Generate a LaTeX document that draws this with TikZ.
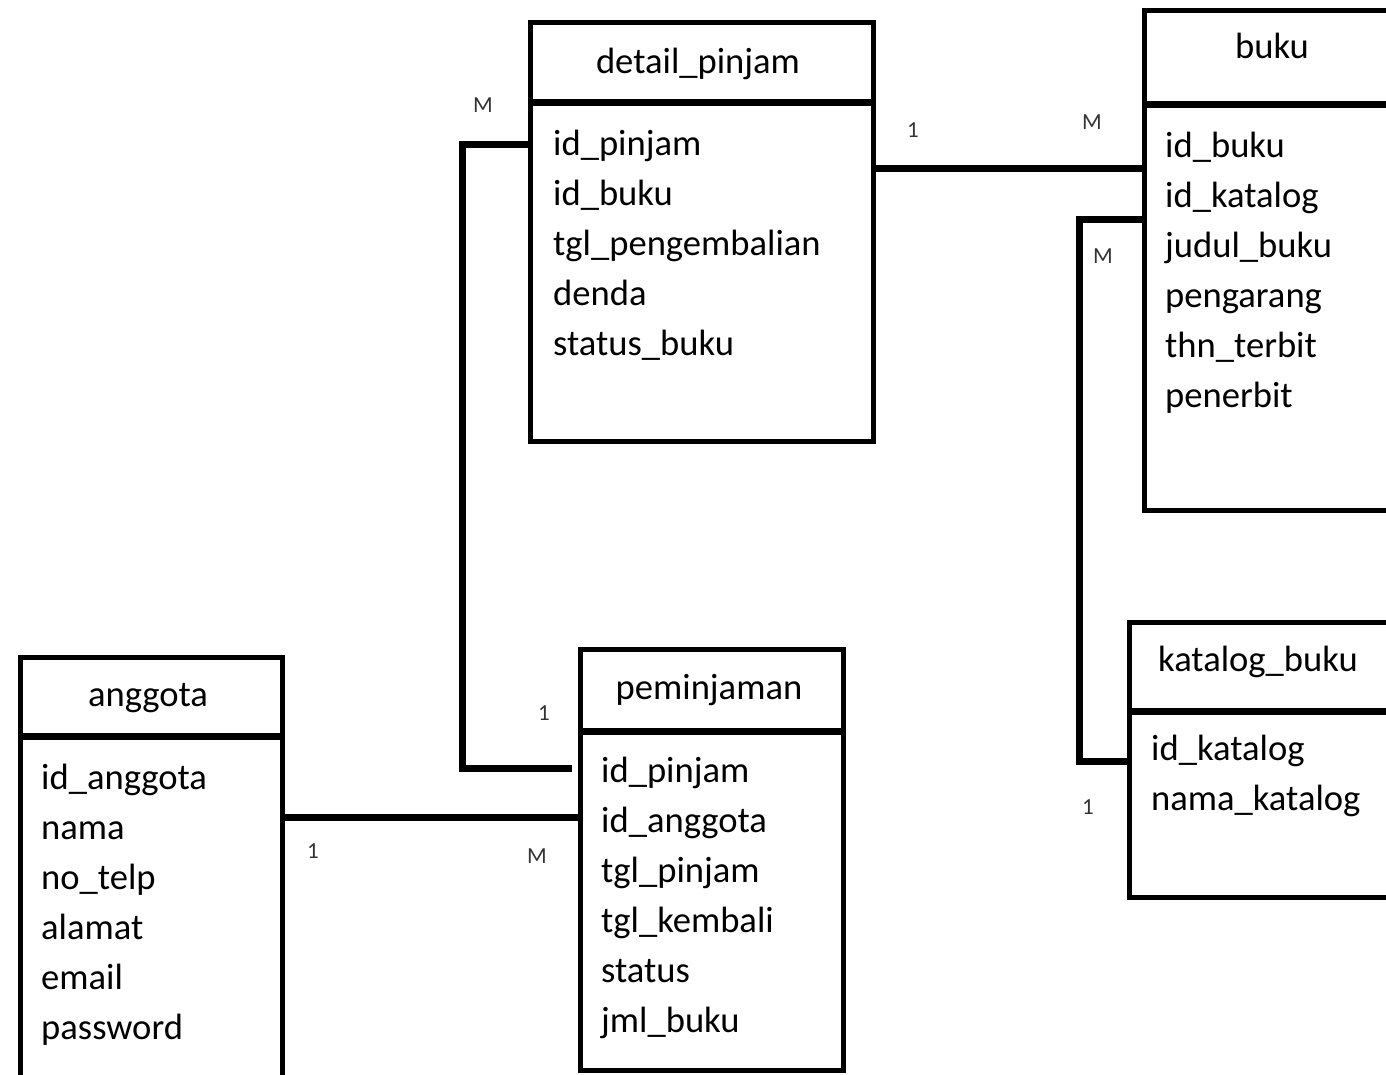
\documentclass[tikz,border=0pt]{standalone}
\usepackage{fontspec}
\setmainfont{Carlito}
\usetikzlibrary{calc}
\begin{document}
\begin{tikzpicture}[x=1pt,y=-1pt,
  entity/.style={draw, line width=4.5pt, inner sep=0pt, anchor=north west},
  divider/.style={line width=7pt},
  link/.style={line width=7pt, line join=miter},
  attr/.style={anchor=mid west, inner sep=0pt, font=\fontsize{36.6}{40}\selectfont},
  ttl/.style={anchor=mid, inner sep=0pt, font=\fontsize{36.6}{40}\selectfont},
  card/.style={inner sep=0pt, text=black!80, font=\fontsize{23}{26}\selectfont}]
\useasboundingbox (0,0) rectangle (1386,1074);
\clip (0,0) rectangle (1386,1074);

% detail_pinjam
\node[entity, minimum width=343pt, minimum height=419pt] (dp) at (528,20) {};
\draw[divider] ($(dp.north west)+(0,82)$) -- ($(dp.north east)+(0,82)$);
\node[ttl] (dpt) at (698,71) {detail\_pinjam};
\node[attr] (dp1) at (553,153) {id\_pinjam};
\node[attr] (dp2) at (553,203) {id\_buku};
\node[attr] (dp3) at (553,253) {tgl\_pengembalian};
\node[attr] (dp4) at (553,303) {denda};
\node[attr] (dp5) at (553,353) {status\_buku};

% buku
\node[entity, minimum width=400pt, minimum height=500pt] (bk) at (1142,8) {};
\draw[divider] ($(bk.north west)+(0,96)$) -- ($(bk.north east)+(0,96)$);
\node[ttl] (bkt) at (1272,56) {buku};
\node[attr] (bk1) at (1165,155) {id\_buku};
\node[attr] (bk2) at (1165,205) {id\_katalog};
\node[attr] (bk3) at (1165,255) {judul\_buku};
\node[attr] (bk4) at (1165,305) {pengarang};
\node[attr] (bk5) at (1165,355) {thn\_terbit};
\node[attr] (bk6) at (1165,405) {penerbit};

% katalog_buku
\node[entity, minimum width=400pt, minimum height=275pt] (kt) at (1127,620) {};
\draw[divider] ($(kt.north west)+(0,91)$) -- ($(kt.north east)+(0,91)$);
\node[ttl] (ktt) at (1258,669) {katalog\_buku};
\node[attr] (kt1) at (1151,758) {id\_katalog};
\node[attr] (kt2) at (1151,808) {nama\_katalog};

% anggota
\node[entity, minimum width=262pt, minimum height=445pt] (ag) at (18,655) {};
\draw[divider] ($(ag.north west)+(0,81)$) -- ($(ag.north east)+(0,81)$);
\node[ttl] (agt) at (148,704) {anggota};
\node[attr] (ag1) at (41,787) {id\_anggota};
\node[attr] (ag2) at (41,837) {nama};
\node[attr] (ag3) at (41,887) {no\_telp};
\node[attr] (ag4) at (41,937) {alamat};
\node[attr] (ag5) at (41,987) {email};
\node[attr] (ag6) at (41,1037) {password};

% peminjaman
\node[entity, minimum width=263pt, minimum height=421pt] (pm) at (578,647) {};
\draw[divider] ($(pm.north west)+(0,84)$) -- ($(pm.north east)+(0,84)$);
\node[ttl] (pmt) at (709,697) {peminjaman};
\node[attr] (pm1) at (601,780) {id\_pinjam};
\node[attr] (pm2) at (601,830) {id\_anggota};
\node[attr] (pm3) at (601,880) {tgl\_pinjam};
\node[attr] (pm4) at (601,930) {tgl\_kembali};
\node[attr] (pm5) at (601,980) {status};
\node[attr] (pm6) at (601,1030) {jml\_buku};

% connectors
\draw[link] ($(dp.north west)+(0,124)$) -| ($(pm.north west)+(-116,121)$) -- ($(pm.north west)+(-6,121)$);
\draw[link] ($(ag.north east)+(0,162)$) -- ($(pm.north west)+(0,170)$);
\draw[link] ($(dp.north east)+(0,148)$) -- ($(bk.north west)+(0,160)$);
\draw[link] ($(bk.north west)+(0,211)$) -| ($(kt.north west)+(-48,141)$) -- ($(kt.north west)+(0,141)$);

% cardinalities
\node[card] (c1) at (483,105) {M};
\node[card] (c2) at (544,713) {1};
\node[card] (c3) at (913,130) {1};
\node[card] (c4) at (1092,122) {M};
\node[card] (c5) at (1103,256) {M};
\node[card] (c6) at (1088,807) {1};
\node[card] (c7) at (313,851) {1};
\node[card] (c8) at (537,856) {M};
\end{tikzpicture}
\end{document}
